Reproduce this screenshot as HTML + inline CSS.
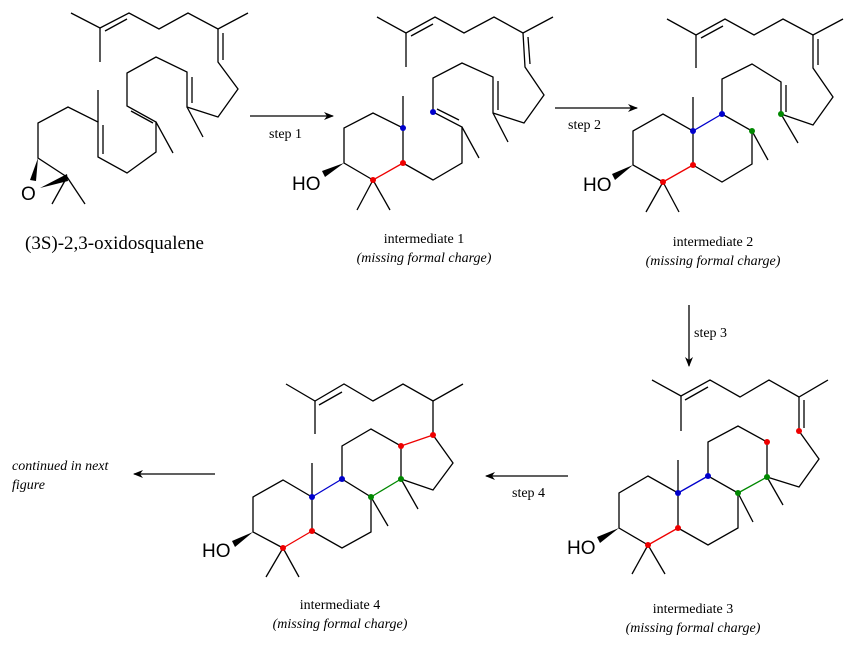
<!DOCTYPE html>
<html><head><meta charset="utf-8"><style>
html,body{margin:0;padding:0;background:#fff;}
svg{display:block;}
.b{stroke:#000;stroke-width:1.3;fill:none;stroke-linejoin:miter;stroke-linecap:butt}
.r{stroke:#e00;stroke-width:1.3;fill:none}
.bl{stroke:#00c;stroke-width:1.3;fill:none}
.g{stroke:#080;stroke-width:1.3;fill:none}
.t{font-family:"Liberation Serif",serif;fill:#000}
.s{font-family:"Liberation Sans",sans-serif;fill:#000}
</style></head><body>
<svg width="857" height="659" viewBox="0 0 857 659" xmlns="http://www.w3.org/2000/svg">
<defs><marker id="ah" markerWidth="10" markerHeight="8" refX="9" refY="4" orient="auto" markerUnits="userSpaceOnUse"><path d="M0,0 L10,4 L0,8 L3,4 Z" fill="#000"/></marker></defs>

<!-- Structure 0: oxidosqualene -->
<polyline class="b" points="71,13 100,28 129,13 159,29 188,13 218,29 248,13"/>
<line class="b" x1="100" y1="28" x2="100" y2="62"/>
<line class="b" x1="105" y1="31" x2="127" y2="19"/>
<polyline class="b" points="218,29 218,62 238,89 218,117 187,107 187,72 156,57 127,73 127,106 156,122 156,152 127,173 98,157 98,122 68,107 38,123 38,158 67,177"/>
<line class="b" x1="223" y1="33" x2="223" y2="60"/>
<line class="b" x1="192" y1="77" x2="192" y2="103"/>
<line class="b" x1="131" y1="111" x2="153" y2="123"/>
<line class="b" x1="103" y1="125" x2="103" y2="154"/>
<line class="b" x1="187" y1="107" x2="203" y2="137"/>
<line class="b" x1="156" y1="122" x2="173" y2="153"/>
<line class="b" x1="98" y1="122" x2="98" y2="90"/>
<polygon points="38,158 30,180 36,181" fill="#000"/>
<polygon points="40,188 67,174 68,181" fill="#000"/>
<line class="b" x1="67" y1="177" x2="52" y2="204"/>
<line class="b" x1="67" y1="177" x2="85" y2="204"/>
<text class="s" x="21" y="200" font-size="19">O</text>
<text class="t" x="25" y="249" font-size="19">(3S)-2,3-oxidosqualene</text>

<!-- step 1 -->
<line class="b" x1="250" y1="116" x2="333" y2="116" marker-end="url(#ah)"/>
<text class="t" x="269" y="138" font-size="14">step 1</text>

<!-- Intermediate 1 -->
<polyline class="b" points="377,17 406,33 435,17 464,33 494,17 523,33 553,17"/>
<line class="b" x1="406" y1="33" x2="406" y2="67"/>
<line class="b" x1="411" y1="36" x2="433" y2="24"/>
<polyline class="b" points="523,33 525,67 544,95 524,123 493,113 493,77 462,63 433,78 433,112 462,127 462,163 433,180 403,163"/>
<line class="b" x1="528" y1="37" x2="530" y2="64"/>
<line class="b" x1="498" y1="81" x2="498" y2="110"/>
<line class="b" x1="437" y1="109" x2="459" y2="120"/>
<line class="b" x1="493" y1="113" x2="508" y2="142"/>
<line class="b" x1="462" y1="127" x2="479" y2="158"/>
<polyline class="b" points="403,96 403,128 373,113 344,128 344,163 373,180"/>
<line class="b" x1="403" y1="128" x2="403" y2="163"/>
<line class="r" x1="373" y1="180" x2="403" y2="163"/>
<line class="b" x1="373" y1="180" x2="357" y2="210"/>
<line class="b" x1="373" y1="180" x2="390" y2="210"/>
<polygon points="344,163 322,171 325,177" fill="#000"/>
<text class="s" x="292" y="190" font-size="19">HO</text>
<circle cx="433" cy="112" r="3" fill="#00c"/>
<circle cx="403" cy="128" r="3" fill="#00c"/>
<circle cx="403" cy="163" r="3" fill="#e00"/>
<circle cx="373" cy="180" r="3" fill="#e00"/>
<text class="t" x="424" y="243" font-size="14" text-anchor="middle">intermediate 1</text>
<text class="t" x="424" y="262" font-size="14" text-anchor="middle" font-style="italic">(missing formal charge)</text>

<!-- step 2 -->
<line class="b" x1="555" y1="108" x2="637" y2="108" marker-end="url(#ah)"/>
<text class="t" x="568" y="129" font-size="14">step 2</text>

<!-- Intermediate 2 -->
<polyline class="b" points="667,19 696,35 725,19 754,35 783,19 813,35 843,19"/>
<line class="b" x1="696" y1="35" x2="696" y2="68"/>
<line class="b" x1="701" y1="38" x2="723" y2="26"/>
<polyline class="b" points="813,35 813,68 833,97 813,125 781,114 781,82 752,64 722,79 722,114"/>
<line class="b" x1="818" y1="39" x2="818" y2="65"/>
<line class="b" x1="786" y1="85" x2="786" y2="112"/>
<line class="b" x1="781" y1="114" x2="798" y2="143"/>
<polyline class="b" points="752,131 752,164 722,182 693,165"/>
<line class="b" x1="722" y1="114" x2="752" y2="131"/>
<line class="b" x1="752" y1="131" x2="768" y2="160"/>
<line class="bl" x1="693" y1="131" x2="722" y2="114"/>
<polyline class="b" points="693,97 693,131 663,114 633,131 633,165 663,182"/>
<line class="b" x1="693" y1="131" x2="693" y2="165"/>
<line class="r" x1="663" y1="182" x2="693" y2="165"/>
<line class="b" x1="663" y1="182" x2="646" y2="212"/>
<line class="b" x1="663" y1="182" x2="679" y2="212"/>
<polygon points="633,165 612,174 615,180" fill="#000"/>
<text class="s" x="583" y="191" font-size="19">HO</text>
<circle cx="722" cy="114" r="3" fill="#00c"/>
<circle cx="693" cy="131" r="3" fill="#00c"/>
<circle cx="752" cy="131" r="3" fill="#080"/>
<circle cx="781" cy="114" r="3" fill="#080"/>
<circle cx="693" cy="165" r="3" fill="#e00"/>
<circle cx="663" cy="182" r="3" fill="#e00"/>
<text class="t" x="713" y="246" font-size="14" text-anchor="middle">intermediate 2</text>
<text class="t" x="713" y="265" font-size="14" text-anchor="middle" font-style="italic">(missing formal charge)</text>

<!-- step 3 -->
<line class="b" x1="689" y1="305" x2="689" y2="366" marker-end="url(#ah)"/>
<text class="t" x="694" y="337" font-size="14">step 3</text>

<!-- Intermediate 3 -->
<polyline class="b" points="652,380 681,396 710,380 740,397 769,380 799,397 828,380"/>
<line class="b" x1="681" y1="396" x2="681" y2="431"/>
<line class="b" x1="685" y1="400" x2="708" y2="387"/>
<polyline class="b" points="799,397 799,431 819,459 799,487 767,477 767,442 738,426 708,442 708,476 738,493 738,528 708,545 678,528"/>
<line class="b" x1="804" y1="400" x2="804" y2="428"/>
<line class="b" x1="767" y1="477" x2="783" y2="505"/>
<line class="g" x1="738" y1="493" x2="767" y2="477"/>
<line class="b" x1="738" y1="493" x2="753" y2="522"/>
<line class="bl" x1="678" y1="493" x2="708" y2="476"/>
<polyline class="b" points="678,460 678,493 648,476 619,493 619,528 648,545"/>
<line class="b" x1="678" y1="493" x2="678" y2="528"/>
<line class="r" x1="648" y1="545" x2="678" y2="528"/>
<line class="b" x1="648" y1="545" x2="632" y2="574"/>
<line class="b" x1="648" y1="545" x2="665" y2="574"/>
<polygon points="619,528 597,537 600,543" fill="#000"/>
<text class="s" x="567" y="554" font-size="19">HO</text>
<circle cx="799" cy="431" r="3" fill="#e00"/>
<circle cx="767" cy="442" r="3" fill="#e00"/>
<circle cx="767" cy="477" r="3" fill="#080"/>
<circle cx="738" cy="493" r="3" fill="#080"/>
<circle cx="708" cy="476" r="3" fill="#00c"/>
<circle cx="678" cy="493" r="3" fill="#00c"/>
<circle cx="678" cy="528" r="3" fill="#e00"/>
<circle cx="648" cy="545" r="3" fill="#e00"/>
<text class="t" x="693" y="613" font-size="14" text-anchor="middle">intermediate 3</text>
<text class="t" x="693" y="632" font-size="14" text-anchor="middle" font-style="italic">(missing formal charge)</text>

<!-- step 4 -->
<line class="b" x1="568" y1="476" x2="486" y2="476" marker-end="url(#ah)"/>
<text class="t" x="512" y="497" font-size="14">step 4</text>

<!-- Intermediate 4 -->
<polyline class="b" points="286,384 315,401 344,384 373,401 403,384 433,401 463,384"/>
<line class="b" x1="315" y1="401" x2="315" y2="434"/>
<line class="b" x1="319" y1="405" x2="342" y2="392"/>
<polyline class="b" points="433,401 433,435 453,463 433,490 401,479 401,446 371,429 342,446 342,479 371,497 371,532 342,548 312,531"/>
<line class="r" x1="401" y1="446" x2="433" y2="435"/>
<line class="b" x1="401" y1="479" x2="418" y2="509"/>
<line class="g" x1="371" y1="497" x2="401" y2="479"/>
<line class="b" x1="371" y1="497" x2="388" y2="526"/>
<line class="bl" x1="312" y1="497" x2="342" y2="479"/>
<polyline class="b" points="312,463 312,497 283,480 253,497 253,532 283,548"/>
<line class="b" x1="312" y1="497" x2="312" y2="531"/>
<line class="r" x1="283" y1="548" x2="312" y2="531"/>
<line class="b" x1="283" y1="548" x2="266" y2="577"/>
<line class="b" x1="283" y1="548" x2="299" y2="577"/>
<polygon points="253,532 232,541 235,547" fill="#000"/>
<text class="s" x="202" y="557" font-size="19">HO</text>
<circle cx="433" cy="435" r="3" fill="#e00"/>
<circle cx="401" cy="446" r="3" fill="#e00"/>
<circle cx="401" cy="479" r="3" fill="#080"/>
<circle cx="371" cy="497" r="3" fill="#080"/>
<circle cx="342" cy="479" r="3" fill="#00c"/>
<circle cx="312" cy="497" r="3" fill="#00c"/>
<circle cx="312" cy="531" r="3" fill="#e00"/>
<circle cx="283" cy="548" r="3" fill="#e00"/>
<text class="t" x="340" y="609" font-size="14" text-anchor="middle">intermediate 4</text>
<text class="t" x="340" y="628" font-size="14" text-anchor="middle" font-style="italic">(missing formal charge)</text>

<!-- continued -->
<line class="b" x1="215" y1="474" x2="134" y2="474" marker-end="url(#ah)"/>
<text class="t" x="12" y="470" font-size="14" font-style="italic">continued in next</text>
<text class="t" x="12" y="489" font-size="14" font-style="italic">figure</text>
</svg>
</body></html>
